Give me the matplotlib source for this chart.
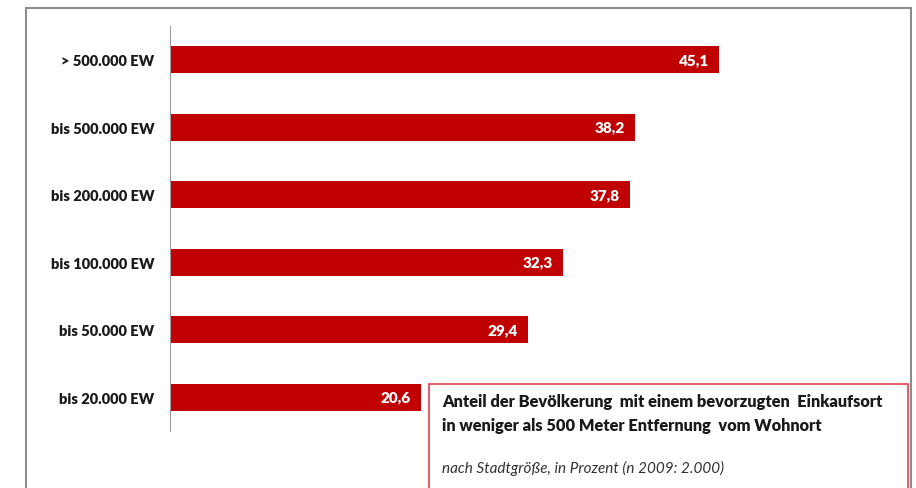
import matplotlib.pyplot as plt
from matplotlib.patches import Rectangle

categories = ['> 500.000 EW', 'bis 500.000 EW', 'bis 200.000 EW',
              'bis 100.000 EW', 'bis 50.000 EW', 'bis 20.000 EW']
values = [45.1, 38.2, 37.8, 32.3, 29.4, 20.6]
value_labels = ['45,1', '38,2', '37,8', '32,3', '29,4', '20,6']

title_lines = 'Anteil der Bevölkerung  mit einem bevorzugten  Einkaufsort\nin weniger als 500 Meter Entfernung  vom Wohnort'
subtitle = 'nach Stadtgröße, in Prozent (n 2009: 2.000)'

plt.rcParams['font.family'] = ['Lato', 'DejaVu Sans']

W, H = 916, 489
fig = plt.figure(figsize=(W / 100, H / 100), dpi=100)

# outer gray frame
fig.add_artist(Rectangle((26 / W, -0.05), (911 - 26) / W, 1.05 - 9 / H,
                         transform=fig.transFigure, fill=False,
                         edgecolor='#8c8c8c', linewidth=1.5))

ax = fig.add_axes([170 / W, 1 - 432 / H, 730 / W, (432 - 27) / H])
y = list(range(len(categories)))
ax.barh(y, values, height=0.4, color='#C00000')
ax.set_ylim(len(categories) - 0.5, -0.5)
ax.set_xlim(0, 60)
ax.set_yticks(y)
ax.set_yticklabels(categories, fontsize=10.5, fontweight='heavy', color='#1a1a1a')
ax.tick_params(axis='y', length=0, pad=11)
ax.set_xticks([])
for s in ['top', 'right', 'bottom']:
    ax.spines[s].set_visible(False)
ax.spines['left'].set_color('#9a9a9a')
ax.spines['left'].set_linewidth(0.8)

for yi, v, lab in zip(y, values, value_labels):
    ax.text(v - 0.8, yi, lab, ha='right', va='center', color='white',
            fontsize=11, fontweight='heavy')

# info box
fig.add_artist(Rectangle((429 / W, -0.05), (908 - 429) / W, 0.05 + 1 - 385 / H,
                         transform=fig.transFigure, fill=True, facecolor='white',
                         edgecolor='#e0404e', linewidth=1.2, zorder=5))
fig.text(442 / W, 1 - 414 / H, title_lines, fontsize=11.8, fontweight='heavy',
         color='#1a1a1a', va='center', ha='left', linespacing=1.6, zorder=6)
fig.text(442 / W, 1 - 468 / H, subtitle, fontsize=11, style='italic',
         color='#333333', va='center', ha='left', zorder=6)

fig.savefig('out.png', dpi=100, facecolor='white')
